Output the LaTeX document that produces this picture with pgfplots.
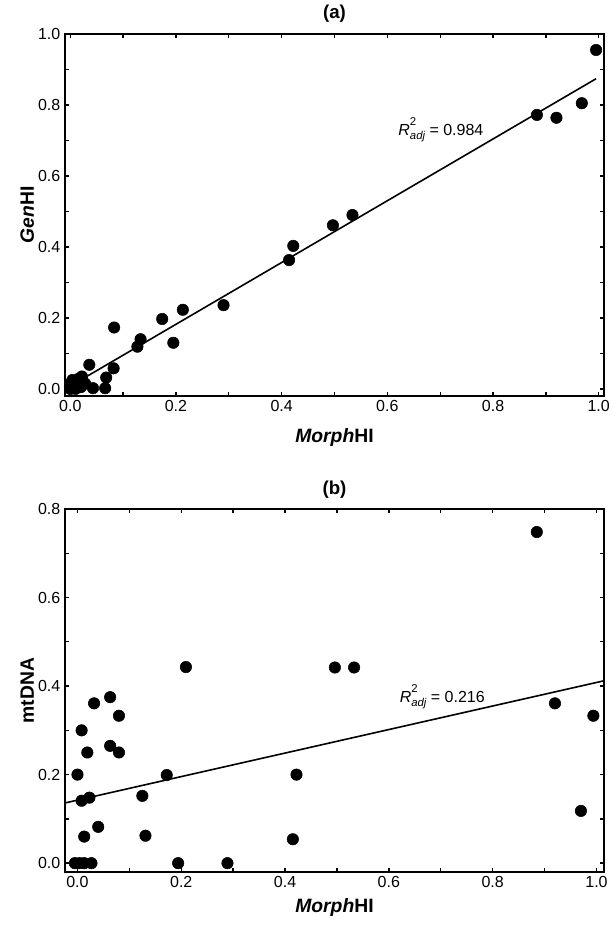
\documentclass[border=0pt]{standalone}
\usepackage{fontspec}
\setmainfont{Liberation Sans}
\usepackage{pgfplots}
\pgfplotsset{compat=1.18}

\pgfplotsset{hiaxis/.style={
  scale only axis, width=404.25pt, clip mode=individual,
  axis line style={line width=1.2pt},
  tick align=inside,
  xtick={0,0.2,0.4,0.6,0.8,1.0}, minor x tick num=1, minor y tick num=1,
  major tick length=3pt, minor tick length=3pt,
  every tick/.style={line width=1pt, black},
  tick label style={font=\fontsize{12}{14}\selectfont},
  label style={font=\fontsize{14.5}{17}\selectfont\bfseries},
  /pgf/number format/assume math mode=true,
  xticklabel style={/pgf/number format/.cd, fixed, fixed zerofill, precision=1},
  yticklabel style={/pgf/number format/.cd, fixed, fixed zerofill, precision=1},
  ylabel style={at={(axis description cs:-0.07,0.5)}, anchor=center},
  xlabel={\textit{Morph}HI},
}}
\newcommand{\radj}[1]{\textit{R}\makebox[0pt][l]{\raisebox{1.1ex}{\fontsize{8.5}{9}\selectfont 2}}\raisebox{-0.5ex}{\fontsize{8.5}{9}\selectfont\itshape adj} = #1}

\begin{document}
\begin{tikzpicture}
\useasboundingbox (0,0) rectangle (459.75pt,-693.75pt);

% (a)
\begin{axis}[hiaxis, at={(48.75pt,-297pt)}, anchor=south west, height=271.5pt,
  xmin=-0.01, xmax=1.01, ymin=-0.02, ymax=1.0,
  ytick={0,0.2,0.4,0.6,0.8,1.0},
  xlabel style={at={(axis description cs:0.5,-0.115)}, anchor=center},
  ylabel={\textit{Gen}HI}]
\addplot[only marks, mark=*, mark size=4.3pt, black] coordinates {
(0.995,0.955) (0.968,0.805) (0.92,0.764) (0.883,0.772)
(0.534,0.49) (0.497,0.461) (0.422,0.403) (0.414,0.363)
(0.29,0.236) (0.213,0.223) (0.195,0.13) (0.174,0.197)
(0.133,0.14) (0.127,0.119) (0.083,0.173) (0.082,0.058)
(0.068,0.032) (0.066,0.002) (0.043,0.002) (0.036,0.068)
(0.0,0.0) (0.005,0.012) (0.01,0.02) (0.015,0.028) (0.02,0.005)
(0.022,0.035) (0.028,0.015) (0.01,0.0) (0.004,0.025) (0.016,0.01) (0.0,0.015)
};
\addplot[black, line width=1.2pt, no marks] coordinates {(0,0.008) (0.995,0.874)};
\node[anchor=west, font=\fontsize{12}{14}\selectfont] at (axis cs:0.612,0.73) {\radj{0.984}};
\node[font=\fontsize{14}{16}\selectfont\bfseries] at (axis description cs:0.5,1.055) {(a)};
\end{axis}

% (b)
\begin{axis}[hiaxis, at={(48.75pt,-654pt)}, anchor=south west, height=272.25pt,
  xmin=-0.024, xmax=1.0145, ymin=-0.02, ymax=0.8,
  ytick={0,0.2,0.4,0.6,0.8},
  xlabel style={at={(axis description cs:0.5,-0.097)}, anchor=center},
  ylabel={mtDNA}]
\addplot[only marks, mark=*, mark size=4.3pt, black] coordinates {
(0.0,0.2) (0.008,0.30) (0.032,0.361) (0.063,0.375) (0.080,0.333)
(0.019,0.25) (0.063,0.265) (0.080,0.25) (0.008,0.141) (0.023,0.148)
(0.013,0.06) (0.04,0.082) (0.125,0.152) (0.131,0.062) (0.172,0.199)
(0.209,0.443) (0.194,0) (0.289,0) (0.422,0.2) (0.415,0.054)
(0.885,0.748) (0.496,0.442) (0.533,0.442) (0.92,0.361) (0.994,0.333)
(0.97,0.118) (-0.005,0) (0.004,0) (0.013,0) (0.027,0)
};
\addplot[black, line width=1.2pt, no marks] coordinates {(-0.024,0.136) (1.0145,0.412)};
\node[anchor=west, font=\fontsize{12}{14}\selectfont] at (axis cs:0.612,0.376) {\radj{0.216}};
\node[font=\fontsize{14}{16}\selectfont\bfseries] at (axis description cs:0.5,1.052) {(b)};
\end{axis}
\end{tikzpicture}
\end{document}
